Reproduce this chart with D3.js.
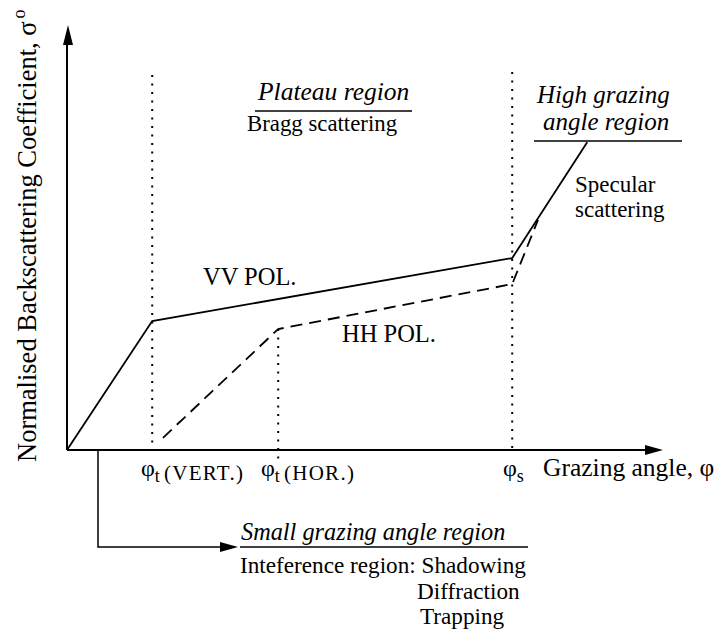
<!DOCTYPE html>
<html>
<head>
<meta charset="utf-8">
<script src="https://cdn.jsdelivr.net/npm/d3@7"></script>
<style>
  body { margin: 0; background: #fff; }
  text { font-family: "Liberation Serif", "Times New Roman", serif; fill: #000; }
</style>
</head>
<body>
<div id="chart"></div>
<script>
var w = 717, h = 632;

// chart values (arbitrary units)
const vvX = [0, 1.42, 7.42, 8.67];
const vvY = [0, 3.07, 4.57, 7.33];
const hhX = [1.6, 3.52, 7.42, 7.85];
const hhY = [0.29, 2.88, 3.95, 5.48];
// dotted markers: transition angles and specular angle
const markX = [1.42, 3.52, 7.42];
const markTop = [8.93, 2.88, 9.0];
const markBottom = [0, -0.29, 0];

var svg = d3.select("#chart").append("svg")
    .attr("width", w).attr("height", h);

var x = d3.scaleLinear().domain([0, 10]).range([67, 667]);
var y = d3.scaleLinear().domain([0, 10]).range([450, 30]);

// axes with arrow heads
svg.append("line")
    .attr("x1", x(0)).attr("y1", y(0)).attr("x2", 648).attr("y2", y(0))
    .attr("stroke", "#000").attr("stroke-width", 2);
svg.append("path")
    .attr("d", "M663," + y(0) + " L645," + (y(0) - 5) + " L645," + (y(0) + 5) + " Z");
svg.append("line")
    .attr("x1", x(0)).attr("y1", y(0)).attr("x2", x(0)).attr("y2", 42)
    .attr("stroke", "#000").attr("stroke-width", 2);
svg.append("path")
    .attr("d", "M" + (x(0) + 1) + ",25 L" + (x(0) - 4) + ",45 L" + (x(0) + 6) + ",45 Z");

// dotted vertical markers
svg.selectAll("line.mark").data(markX).enter().append("line")
    .attr("class", "mark")
    .attr("x1", d => x(d)).attr("x2", d => x(d))
    .attr("y1", (d, i) => y(markTop[i])).attr("y2", (d, i) => y(markBottom[i]))
    .attr("stroke", "#000").attr("stroke-width", 2)
    .attr("stroke-dasharray", "2,6.5");

var line = d3.line().x(d => x(d[0])).y(d => y(d[1]));

// VV polarisation (solid)
svg.append("path")
    .attr("d", line(d3.zip(vvX, vvY)))
    .attr("fill", "none").attr("stroke", "#000").attr("stroke-width", 1.8);

// HH polarisation (dashed)
svg.append("path")
    .attr("d", line(d3.zip(hhX, hhY)))
    .attr("fill", "none").attr("stroke", "#000").attr("stroke-width", 1.8)
    .attr("stroke-dasharray", "12,7");

// y axis title
svg.append("text")
    .attr("transform", "translate(36,462) rotate(-90)")
    .attr("font-size", 26.5)
    .text("Normalised Backscattering Coefficient, σ")
    .append("tspan").attr("dy", -11).attr("dx", 3).attr("font-size", 18).text("o");

// x tick-like labels
function phiLabel(px, sub, rest) {
    var t = svg.append("text").attr("x", px).attr("y", 476).attr("font-size", 24);
    t.append("tspan").text("φ");
    t.append("tspan").attr("dy", 6).attr("font-size", 18).text(sub);
    if (rest) t.append("tspan").attr("dx", 4).attr("dy", -2).attr("font-size", 21)
        .attr("letter-spacing", 1.3).text(rest);
}
phiLabel(141, "t", "(VERT.)");
phiLabel(261, "t", "(HOR.)");
phiLabel(503, "s", null);
svg.append("text").attr("x", 543).attr("y", 476).attr("font-size", 25.5)
    .text("Grazing angle, φ");

// line labels
svg.append("text").attr("x", 203).attr("y", 285).attr("font-size", 24.5).text("VV POL.");
svg.append("text").attr("x", 342).attr("y", 342).attr("font-size", 24.5).text("HH POL.");

// plateau region
svg.append("text").attr("x", 258).attr("y", 100).attr("font-size", 25.5)
    .attr("font-style", "italic").text("Plateau region");
svg.append("line").attr("x1", 255).attr("x2", 412).attr("y1", 111).attr("y2", 111)
    .attr("stroke", "#000").attr("stroke-width", 1.5);
svg.append("text").attr("x", 247).attr("y", 131).attr("font-size", 22.8).text("Bragg scattering");

// high grazing angle region
svg.append("text").attr("x", 537).attr("y", 103).attr("font-size", 25)
    .attr("font-style", "italic").text("High grazing");
svg.append("text").attr("x", 543).attr("y", 130).attr("font-size", 25)
    .attr("font-style", "italic").text("angle region");
svg.append("line").attr("x1", 534).attr("x2", 682).attr("y1", 141).attr("y2", 141)
    .attr("stroke", "#000").attr("stroke-width", 1.5);
svg.append("text").attr("x", 575).attr("y", 192).attr("font-size", 23).text("Specular");
svg.append("text").attr("x", 575).attr("y", 217).attr("font-size", 23).text("scattering");

// small grazing angle bracket
svg.append("path")
    .attr("d", "M98," + y(0) + " L98,547 L222,547")
    .attr("fill", "none").attr("stroke", "#000").attr("stroke-width", 1.5);
svg.append("path").attr("d", "M238,547 L220,542 L220,552 Z");
svg.append("text").attr("x", 241).attr("y", 540).attr("font-size", 24.3)
    .attr("font-style", "italic").text("Small grazing angle region");
svg.append("line").attr("x1", 240).attr("x2", 528).attr("y1", 547).attr("y2", 547)
    .attr("stroke", "#000").attr("stroke-width", 1.5);
svg.append("text").attr("x", 240).attr("y", 573).attr("font-size", 23.2)
    .text("Inteference region: Shadowing");
svg.append("text").attr("x", 417).attr("y", 599).attr("font-size", 23.2).text("Diffraction");
svg.append("text").attr("x", 420).attr("y", 624).attr("font-size", 23.2).text("Trapping");
</script>
</body>
</html>
